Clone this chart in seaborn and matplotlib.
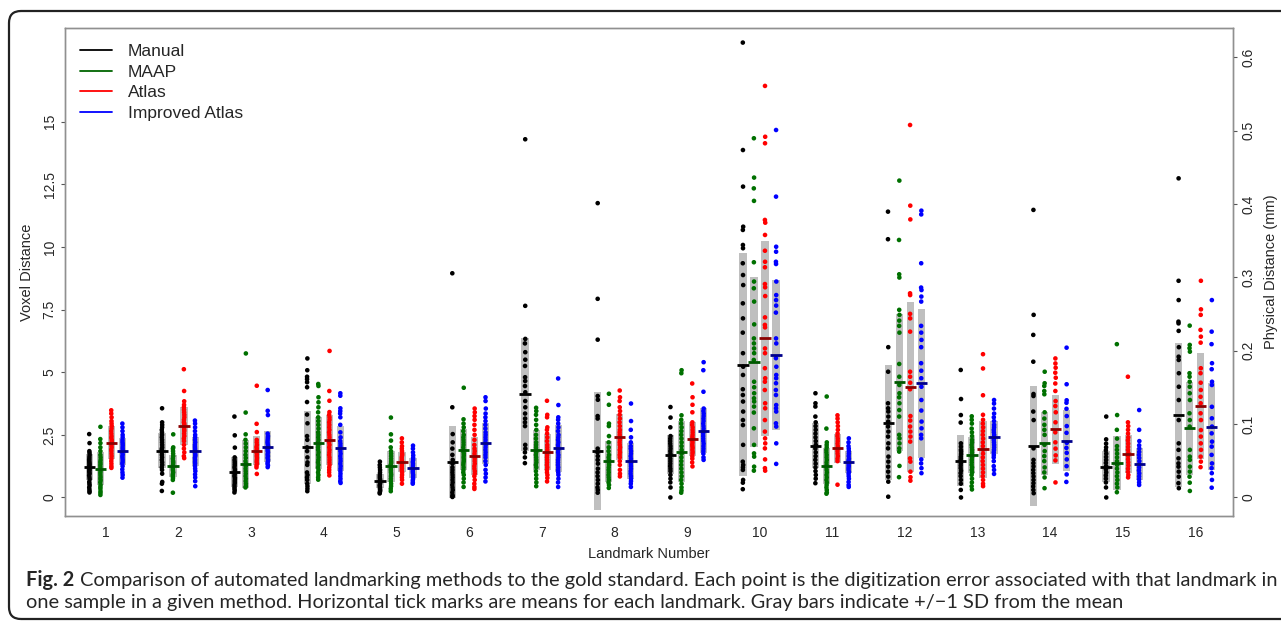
import numpy as np
import pandas as pd
import matplotlib
matplotlib.use("Agg")
import matplotlib.pyplot as plt
import seaborn as sns
from matplotlib.lines import Line2D
from matplotlib.patches import FancyBboxPatch
from matplotlib import font_manager

# ---------------- data ----------------
landmarks = list(range(1, 17))
methods = ["Manual", "MAAP", "Atlas", "Improved Atlas"]

manual = [
    [2.53, 2.17, 1.85, 1.78, 1.7, 1.62, 1.55, 1.5, 1.45, 1.4, 1.35, 1.3, 1.25, 1.2, 1.15, 1.1, 1.05, 1.0, 0.95, 0.88, 0.8, 0.72, 0.62, 0.55, 0.48, 0.4, 0.32, 0.25, 0.2],
    [3.56, 3.0, 2.9, 2.8, 2.7, 2.6, 2.5, 2.4, 2.3, 2.2, 2.1, 2.0, 1.95, 1.9, 1.85, 1.8, 1.7, 1.6, 1.5, 1.4, 1.3, 1.2, 1.1, 0.95, 0.62, 0.55, 0.26],
    [3.23, 2.48, 1.99, 1.6, 1.5, 1.42, 1.35, 1.28, 1.2, 1.12, 1.05, 0.98, 0.92, 0.85, 0.78, 0.72, 0.65, 0.58, 0.5, 0.42, 0.35, 0.28, 0.2],
    [5.55, 5.08, 4.82, 4.72, 4.6, 4.4, 3.81, 3.31, 2.96, 2.45, 2.3, 2.0, 1.85, 1.6, 1.4, 1.3, 1.0, 0.9, 0.8, 0.7, 0.55, 0.45, 0.35, 0.25],
    [1.43, 1.3, 1.2, 1.1, 1.0, 0.92, 0.85, 0.78, 0.72, 0.66, 0.6, 0.55, 0.5, 0.45, 0.4, 0.35, 0.3, 0.25, 0.2, 0.16],
    [8.95, 3.6, 2.53, 2.2, 1.95, 1.7, 1.5, 1.35, 1.2, 1.1, 1.0, 0.9, 0.8, 0.7, 0.6, 0.5, 0.4, 0.3, 0.2, 0.1, 0.05, 0.02],
    [14.3, 7.65, 6.33, 6.15, 5.8, 5.5, 5.25, 4.8, 4.65, 4.45, 4.2, 3.85, 3.6, 3.35, 3.15, 3.0, 2.85, 2.1, 1.95, 1.8, 1.6, 1.37],
    [11.75, 7.93, 6.3, 4.05, 3.9, 3.25, 3.15, 1.95, 1.8, 1.65, 1.5, 1.35, 1.15, 1.0, 0.85, 0.7, 0.55, 0.4, 0.3, 0.19],
    [3.61, 3.19, 2.8, 2.45, 2.35, 2.25, 2.15, 2.05, 1.95, 1.85, 1.75, 1.65, 1.55, 1.45, 1.35, 1.25, 1.15, 1.05, 0.9, 0.75, 0.6, 0.4, 0.0],
    [18.16, 13.87, 12.41, 10.81, 10.68, 10.08, 9.95, 9.35, 8.88, 8.48, 7.75, 7.15, 6.58, 5.76, 5.22, 4.89, 4.32, 4.09, 3.83, 3.43, 3.09, 2.89, 2.1, 1.43, 1.3, 1.2, 1.1, 0.7, 0.59, 0.33],
    [4.16, 3.76, 3.63, 3.23, 3.0, 2.85, 2.7, 2.55, 2.4, 2.25, 2.1, 1.95, 1.8, 1.65, 1.5, 1.35, 1.2, 1.05, 0.9, 0.75, 0.57],
    [11.41, 10.31, 6.0, 5.02, 3.76, 3.56, 3.43, 3.23, 3.03, 2.83, 2.63, 2.43, 2.16, 1.96, 1.63, 1.43, 1.23, 1.03, 0.83, 0.63, 0.03],
    [5.09, 3.93, 3.29, 2.99, 2.16, 2.03, 1.9, 1.83, 1.73, 1.63, 1.55, 1.47, 1.36, 1.27, 1.17, 1.07, 0.97, 0.85, 0.7, 0.55, 0.3, 0.0],
    [11.48, 7.29, 6.49, 5.42, 4.13, 4.05, 3.43, 3.09, 1.96, 1.5, 1.37, 1.24, 1.1, 0.97, 0.84, 0.7, 0.57, 0.44, 0.3, 0.17],
    [3.23, 2.32, 2.15, 2.0, 1.88, 1.75, 1.62, 1.5, 1.38, 1.25, 1.12, 1.0, 0.88, 0.75, 0.6, 0.4, 0.0],
    [12.74, 8.65, 7.88, 7.02, 6.95, 6.65, 6.0, 5.62, 5.49, 4.96, 4.42, 3.89, 3.09, 2.16, 1.9, 1.56, 1.36, 1.23, 1.03, 0.83, 0.57, 0.37],
]
maap = [
    [2.82, 2.33, 2.17, 2.0, 1.85, 1.7, 1.6, 1.5, 1.42, 1.35, 1.28, 1.2, 1.12, 1.05, 0.98, 0.9, 0.82, 0.75, 0.68, 0.6, 0.5, 0.42, 0.35, 0.25, 0.18, 0.1],
    [2.52, 2.0, 1.95, 1.85, 1.75, 1.65, 1.55, 1.45, 1.38, 1.3, 1.22, 1.15, 1.08, 1.0, 0.92, 0.85, 0.78, 0.7, 0.19],
    [5.75, 3.39, 2.52, 2.3, 2.15, 2.0, 1.85, 1.7, 1.58, 1.45, 1.35, 1.25, 1.15, 1.05, 0.95, 0.85, 0.75, 0.65, 0.55, 0.45, 0.4],
    [4.53, 4.45, 4.0, 3.8, 3.6, 3.4, 3.2, 3.05, 2.9, 2.75, 2.6, 2.5, 2.4, 2.3, 2.2, 2.1, 2.0, 1.9, 1.8, 1.7, 1.6, 1.5, 1.4, 1.3, 1.2, 1.1, 1.0, 0.9, 0.8, 0.71],
    [3.19, 2.52, 2.27, 2.0, 1.85, 1.75, 1.65, 1.55, 1.45, 1.38, 1.3, 1.22, 1.15, 1.08, 1.0, 0.92, 0.85, 0.75, 0.65, 0.55, 0.45, 0.35, 0.25],
    [4.38, 3.12, 2.95, 2.8, 2.65, 2.5, 2.4, 2.3, 2.2, 2.1, 2.0, 1.9, 1.82, 1.75, 1.68, 1.6, 1.52, 1.45, 1.38, 1.3, 1.2, 1.1, 1.0, 0.9, 0.75, 0.6, 0.42],
    [3.58, 3.45, 3.3, 3.1, 2.9, 2.7, 2.5, 2.35, 2.2, 2.1, 2.0, 1.9, 1.8, 1.7, 1.6, 1.5, 1.4, 1.3, 1.2, 1.05, 0.9, 0.75, 0.6, 0.45],
    [4.14, 3.7, 2.95, 2.85, 2.45, 2.2, 2.0, 1.85, 1.7, 1.6, 1.5, 1.4, 1.3, 1.2, 1.1, 1.0, 0.9, 0.8, 0.7, 0.6, 0.5, 0.38],
    [5.08, 4.96, 3.28, 3.1, 2.95, 2.8, 2.65, 2.5, 2.35, 2.2, 2.05, 1.9, 1.75, 1.6, 1.45, 1.3, 1.15, 1.0, 0.85, 0.7, 0.55, 0.4, 0.28, 0.19],
    [14.34, 12.77, 12.34, 11.84, 9.39, 8.62, 8.35, 7.82, 6.91, 6.35, 6.15, 5.95, 5.76, 5.49, 4.62, 4.4, 4.16, 3.96, 3.83, 3.63, 3.39, 2.76, 2.1, 1.76, 1.63, 1.23, 1.07],
    [4.03, 2.75, 2.2, 2.1, 2.0, 1.9, 1.8, 1.7, 1.6, 1.5, 1.4, 1.3, 1.2, 1.1, 1.0, 0.9, 0.8, 0.7, 0.6, 0.5, 0.4, 0.3, 0.2, 0.15],
    [12.65, 10.28, 8.91, 8.78, 7.49, 7.29, 7.06, 6.85, 6.58, 5.33, 4.82, 4.49, 4.16, 4.0, 3.76, 3.49, 3.23, 2.5, 2.36, 2.16, 1.96, 1.83, 1.26, 0.81],
    [3.24, 3.1, 2.95, 2.75, 2.6, 2.45, 2.3, 2.2, 2.1, 2.0, 1.9, 1.8, 1.7, 1.6, 1.5, 1.4, 1.3, 1.2, 1.1, 1.0, 0.9, 0.75, 0.6, 0.45, 0.32],
    [5.02, 4.56, 4.45, 4.25, 4.12, 3.4, 3.15, 2.9, 2.7, 2.5, 2.1, 1.85, 1.65, 1.45, 1.2, 1.0, 0.8, 0.37],
    [6.12, 3.29, 2.7, 2.35, 2.05, 1.9, 1.75, 1.6, 1.45, 1.3, 1.15, 1.0, 0.85, 0.7, 0.55, 0.4, 0.21],
    [6.86, 6.09, 5.96, 5.82, 4.96, 4.82, 4.62, 4.42, 4.16, 3.89, 3.36, 3.09, 2.83, 1.9, 1.63, 1.5, 1.23, 1.03, 0.83, 0.59, 0.26],
]
atlas = [
    [3.48, 3.35, 3.2, 3.05, 2.95, 2.85, 2.75, 2.65, 2.55, 2.45, 2.38, 2.3, 2.22, 2.15, 2.08, 2.0, 1.92, 1.85, 1.75, 1.65, 1.55, 1.45, 1.35, 1.25, 1.18],
    [5.12, 4.25, 3.84, 3.7, 3.6, 3.5, 3.4, 3.3, 3.2, 3.1, 3.0, 2.95, 2.88, 2.8, 2.72, 2.65, 2.55, 2.45, 2.35, 2.25, 2.1, 1.95, 1.8, 1.65, 1.57],
    [4.46, 2.94, 2.61, 2.3, 2.2, 2.1, 2.02, 1.95, 1.88, 1.8, 1.72, 1.65, 1.58, 1.5, 1.42, 1.35, 1.28, 1.2, 0.94],
    [5.85, 4.25, 3.86, 3.41, 3.3, 3.2, 3.1, 3.0, 2.9, 2.8, 2.7, 2.6, 2.5, 2.4, 2.3, 2.2, 2.1, 2.0, 1.9, 1.8, 1.7, 1.6, 1.5, 1.4, 1.3, 1.2, 1.1, 1.0, 0.88],
    [2.36, 2.2, 2.05, 1.95, 1.85, 1.75, 1.68, 1.6, 1.52, 1.45, 1.38, 1.3, 1.22, 1.15, 1.08, 1.0, 0.9, 0.8, 0.7, 0.55],
    [3.55, 3.4, 3.25, 3.1, 2.9, 2.7, 2.5, 2.3, 2.1, 1.95, 1.85, 1.75, 1.65, 1.55, 1.45, 1.35, 1.25, 1.15, 1.05, 0.95, 0.85, 0.7, 0.55, 0.42, 0.34],
    [3.86, 3.3, 3.2, 2.8, 2.7, 2.55, 2.4, 2.25, 2.1, 2.0, 1.9, 1.8, 1.7, 1.6, 1.5, 1.4, 1.3, 1.2, 1.1, 1.0, 0.9, 0.78, 0.64],
    [4.27, 4.0, 3.85, 3.6, 3.45, 3.3, 3.15, 3.0, 2.85, 2.7, 2.6, 2.5, 2.4, 2.3, 2.2, 2.1, 2.0, 1.9, 1.8, 1.7, 1.6, 1.45, 1.3, 1.1, 0.95, 0.84],
    [4.55, 4.0, 3.7, 3.4, 3.0, 2.9, 2.8, 2.7, 2.6, 2.5, 2.42, 2.35, 2.28, 2.2, 2.12, 2.05, 1.98, 1.9, 1.82, 1.75, 1.65, 1.55, 1.4, 1.24],
    [16.43, 14.4, 14.14, 11.08, 10.97, 10.48, 9.85, 9.41, 9.19, 8.52, 8.39, 8.04, 7.19, 6.89, 6.79, 5.95, 5.76, 5.16, 4.76, 4.62, 4.29, 3.76, 3.56, 3.09, 2.63, 2.36, 2.16, 1.96, 1.52, 1.17, 1.07],
    [3.28, 3.15, 3.0, 2.85, 2.7, 2.55, 2.45, 2.35, 2.25, 2.15, 2.05, 1.95, 1.85, 1.75, 1.65, 1.55, 1.45, 0.51],
    [14.87, 11.65, 11.1, 8.15, 8.08, 7.33, 7.15, 6.62, 5.02, 4.82, 4.58, 4.32, 3.25, 3.07, 2.83, 2.63, 2.43, 2.23, 1.56, 1.43, 1.03, 0.81, 0.67],
    [5.72, 5.15, 4.08, 3.3, 3.1, 2.95, 2.8, 2.65, 2.5, 2.35, 2.2, 2.05, 1.9, 1.75, 1.6, 1.45, 1.3, 1.15, 1.0, 0.85, 0.7, 0.55, 0.45],
    [5.55, 5.35, 5.18, 4.98, 4.78, 4.55, 4.25, 3.85, 3.65, 3.4, 3.0, 2.6, 2.2, 1.95, 1.68, 1.48, 0.6],
    [4.82, 3.0, 2.85, 2.7, 2.55, 2.4, 2.28, 2.15, 2.02, 1.9, 1.78, 1.65, 1.52, 1.4, 1.28, 1.15, 1.02, 0.9, 0.8],
    [8.65, 7.51, 7.29, 6.69, 6.42, 6.18, 5.16, 4.96, 4.58, 4.29, 4.02, 3.76, 3.36, 3.09, 2.69, 2.43, 2.16, 1.9, 1.63, 1.43, 1.21],
]
improved = [
    [2.95, 2.8, 2.65, 2.5, 2.4, 2.3, 2.22, 2.15, 2.08, 2.0, 1.93, 1.86, 1.8, 1.72, 1.65, 1.58, 1.5, 1.42, 1.35, 1.25, 1.12, 1.0, 0.9, 0.79],
    [3.07, 2.95, 2.8, 2.65, 2.5, 2.4, 2.3, 2.2, 2.1, 2.02, 1.95, 1.88, 1.8, 1.72, 1.65, 1.58, 1.5, 1.42, 1.35, 1.25, 1.15, 1.05, 0.92, 0.8, 0.65, 0.45],
    [4.29, 3.46, 3.29, 2.55, 2.45, 2.38, 2.3, 2.22, 2.15, 2.08, 2.0, 1.93, 1.86, 1.8, 1.72, 1.65, 1.58, 1.5, 1.42, 1.35, 1.28, 1.21],
    [4.16, 4.06, 3.56, 3.45, 3.35, 3.2, 2.9, 2.6, 2.4, 2.25, 2.15, 2.05, 1.95, 1.85, 1.75, 1.65, 1.55, 1.45, 1.35, 1.25, 1.15, 1.05, 0.95, 0.85, 0.75, 0.65, 0.58],
    [2.07, 1.95, 1.8, 1.68, 1.58, 1.5, 1.42, 1.35, 1.28, 1.2, 1.12, 1.05, 0.98, 0.9, 0.82, 0.75, 0.68, 0.6, 0.55],
    [4.0, 3.85, 3.55, 3.35, 3.2, 3.05, 2.9, 2.75, 2.6, 2.5, 2.4, 2.3, 2.2, 2.1, 2.0, 1.9, 1.8, 1.7, 1.6, 1.45, 1.3, 1.1, 0.95, 0.8, 0.64],
    [4.75, 3.69, 3.2, 3.1, 2.95, 2.8, 2.65, 2.5, 2.4, 2.3, 2.2, 2.1, 2.0, 1.9, 1.8, 1.7, 1.6, 1.5, 1.4, 1.3, 1.2, 1.1, 1.0, 0.9, 0.75, 0.6, 0.42],
    [3.75, 3.05, 2.7, 2.4, 2.2, 2.05, 1.95, 1.85, 1.75, 1.65, 1.55, 1.45, 1.35, 1.25, 1.15, 1.05, 0.95, 0.85, 0.75, 0.65, 0.55, 0.42],
    [5.4, 5.08, 4.22, 3.55, 3.45, 3.35, 3.25, 3.15, 3.05, 2.95, 2.85, 2.75, 2.65, 2.55, 2.45, 2.35, 2.25, 2.15, 2.05, 1.95, 1.85, 1.75, 1.6, 1.5],
    [14.67, 12.01, 10.01, 9.81, 9.41, 9.32, 8.62, 8.08, 7.88, 7.66, 7.38, 6.35, 6.15, 5.56, 5.22, 4.89, 4.76, 4.56, 4.29, 4.09, 3.69, 3.56, 3.43, 2.96, 2.83, 2.16, 1.34],
    [2.36, 2.2, 2.05, 1.95, 1.85, 1.75, 1.65, 1.55, 1.48, 1.4, 1.32, 1.25, 1.18, 1.1, 1.02, 0.95, 0.85, 0.75, 0.62, 0.5, 0.42],
    [11.45, 11.3, 9.35, 8.38, 8.28, 8.02, 7.82, 6.85, 6.58, 6.29, 6.0, 5.36, 5.06, 4.76, 4.42, 3.89, 3.47, 3.03, 2.76, 2.5, 2.36, 1.52, 1.36, 1.17, 0.97],
    [3.89, 3.75, 3.55, 3.35, 3.2, 3.05, 2.9, 2.8, 2.7, 2.6, 2.5, 2.4, 2.3, 2.2, 2.1, 2.0, 1.9, 1.8, 1.7, 1.6, 1.45, 1.25, 1.1, 0.94],
    [5.98, 4.52, 3.88, 3.78, 3.54, 3.25, 2.85, 2.58, 2.18, 1.98, 1.78, 1.52, 1.25, 0.92, 0.62],
    [3.49, 2.7, 2.25, 2.08, 1.95, 1.82, 1.7, 1.58, 1.45, 1.33, 1.2, 1.08, 0.96, 0.84, 0.72, 0.6, 0.5],
    [7.88, 6.62, 6.12, 5.36, 5.12, 4.62, 4.49, 3.62, 3.16, 2.83, 2.56, 2.23, 2.03, 1.7, 1.36, 1.17, 0.97, 0.7, 0.39],
]

# means (horizontal ticks) and standard deviations (gray bars) per landmark
manual_mean = [1.22, 1.87, 1.02, 2.00, 0.65, 1.42, 4.12, 1.86, 1.70, 5.29, 2.06, 2.99, 1.47, 2.04, 1.23, 3.29]
manual_sd = [0.53, 0.69, 0.59, 1.46, 0.27, 1.45, 2.25, 2.35, 0.78, 4.45, 0.90, 2.31, 1.03, 2.40, 0.63, 2.87]
maap_mean = [1.15, 1.25, 1.34, 2.19, 1.24, 1.90, 1.90, 1.44, 1.83, 5.42, 1.26, 4.60, 1.70, 2.16, 1.37, 2.76]
maap_sd = [0.65, 0.45, 0.97, 1.04, 0.61, 0.82, 0.79, 0.83, 1.22, 3.39, 0.71, 2.74, 0.73, 1.26, 1.08, 1.86]
atlas_mean = [2.19, 2.86, 1.87, 2.29, 1.40, 1.66, 1.83, 2.40, 2.32, 6.35, 1.96, 4.42, 1.92, 2.72, 1.74, 3.65]
atlas_sd = [0.67, 0.76, 0.57, 1.01, 0.40, 0.77, 0.72, 0.92, 0.68, 3.90, 0.58, 3.40, 1.15, 1.38, 0.75, 2.13]
improved_mean = [1.84, 1.84, 2.03, 1.96, 1.17, 2.16, 1.96, 1.46, 2.66, 5.69, 1.41, 4.56, 2.40, 2.27, 1.33, 2.83]
improved_sd = [0.55, 0.59, 0.61, 0.91, 0.40, 0.81, 0.93, 0.71, 0.90, 2.99, 0.43, 2.97, 0.66, 1.22, 0.65, 1.74]

left_ticks = [0, 2.5, 5, 7.5, 10, 12.5, 15]
left_ticklabels = ["0", "2.5", "5", "7.5", "10", "12.5", "15"]
right_ticks = [0, 0.1, 0.2, 0.3, 0.4, 0.5, 0.6]
right_ticklabels = ["0", "0.1", "0.2", "0.3", "0.4", "0.5", "0.6"]
mm_per_voxel = 0.03413

caption_bold = "Fig. 2"
caption_line1 = ("Comparison of automated landmarking methods to the gold standard. "
                 "Each point is the digitization error associated with that landmark in")
caption_line2 = ("one sample in a given method. Horizontal tick marks are means for each landmark. "
                 "Gray bars indicate +/\u22121 SD from the mean")

# ---------------- styling ----------------
W, H = 1281, 624
point_colors = {"Manual": "#000000", "MAAP": "#007000", "Atlas": "#ff0000", "Improved Atlas": "#0000ff"}
mean_colors = {"Manual": "#000000", "MAAP": "#005800", "Atlas": "#8b0000", "Improved Atlas": "#00008b"}
legend_colors = {"Manual": "#000000", "MAAP": "#006400", "Atlas": "#ff0000", "Improved Atlas": "#0000ff"}
offsets = {"Manual": -0.228, "MAAP": -0.076, "Atlas": 0.076, "Improved Atlas": 0.228}

sns.set_style("white")
names = {f.name for f in font_manager.fontManager.ttflist}
main_font = "Liberation Sans" if "Liberation Sans" in names else "DejaVu Sans"
cap_font = "Lato" if "Lato" in names else main_font
plt.rcParams["font.family"] = [main_font, "DejaVu Sans"]

# ---------------- long-form data ----------------
series = {"Manual": manual, "MAAP": maap, "Atlas": atlas, "Improved Atlas": improved}
stats = {"Manual": (manual_mean, manual_sd), "MAAP": (maap_mean, maap_sd),
         "Atlas": (atlas_mean, atlas_sd), "Improved Atlas": (improved_mean, improved_sd)}
rows = []
for m in methods:
    for lm, vals in zip(landmarks, series[m]):
        for v in vals:
            rows.append({"landmark": lm, "method": m, "pos": round(lm + offsets[m], 3), "voxel": v})
df = pd.DataFrame(rows)

fig = plt.figure(figsize=(W / 100, H / 100), dpi=100)
ax = fig.add_axes([65 / W, 1 - 516 / H, (1233 - 65) / W, (516 - 28.3) / H])

# gray +/- 1 SD bars
for m in methods:
    mean, sd = stats[m]
    mean = np.array(mean)
    sd = np.array(sd)
    pos = np.array(landmarks) + offsets[m]
    ax.bar(pos, 2 * sd, bottom=mean - sd, width=0.1, color="#bfbfbf", zorder=1, linewidth=0)

np.random.seed(7)
sns.stripplot(data=df, x="pos", y="voxel", hue="method", hue_order=methods, palette=point_colors,
              native_scale=True, orient="x", jitter=0.022, size=3.3, linewidth=0, legend=False,
              ax=ax, zorder=2)

# mean ticks
for m in methods:
    mean, sd = stats[m]
    pos = np.array(landmarks) + offsets[m]
    ax.hlines(mean, pos - 0.078, pos + 0.078, colors=mean_colors[m], linewidth=2.0, zorder=3)

ylo, yhi = -0.74, 18.73
ax.set_xlim(0.436, 16.52)
ax.set_ylim(ylo, yhi)
ax.set_xticks(landmarks)
ax.set_xticklabels([str(v) for v in landmarks], fontsize=10)
ax.set_yticks(left_ticks)
ax.set_yticklabels(left_ticklabels, fontsize=10, rotation=90, va="center")
ax.set_xlabel("Landmark Number", fontsize=10.5, labelpad=5)
ax.set_ylabel("Voxel Distance", fontsize=10.5, labelpad=6)
ax.tick_params(axis="x", length=4, width=0.8, color="#555555", pad=3)
ax.tick_params(axis="y", length=3, width=0.8, color="#555555", pad=3)
for s in ax.spines.values():
    s.set_color("#909090")
    s.set_linewidth(1.0)

ax2 = ax.twinx()
ax2.set_ylim(ylo * mm_per_voxel, yhi * mm_per_voxel)
ax2.set_yticks(right_ticks)
ax2.set_yticklabels(right_ticklabels, fontsize=10, rotation=90, va="center")
ax2.set_ylabel("Physical Distance (mm)", fontsize=10.5, labelpad=6)
ax2.tick_params(axis="y", length=3, width=0.8, color="#555555", pad=3)
for s in ax2.spines.values():
    s.set_color("#909090")
    s.set_linewidth(1.0)

handles = [Line2D([0], [0], color=legend_colors[m], lw=1.3) for m in methods]
ax.legend(handles, methods, loc="upper left", bbox_to_anchor=(0.0128, 0.968), frameon=False,
          fontsize=12.5, handlelength=1.85, handletextpad=0.9, labelspacing=0.32,
          borderpad=0, borderaxespad=0)

# outer rounded frame
frame = FancyBboxPatch((9, 5), 1300, 608, boxstyle="round,pad=0,rounding_size=12",
                       transform=None, fill=False, edgecolor="#222222", linewidth=1.6)
fig.patches.append(frame)

# caption (sized so that the first line spans the same width as in the reference)
fig.canvas.draw()
r = fig.canvas.get_renderer()
fs = 13.0
x0, x_end, gap = 26, 1275, 6
cfam = [cap_font, "DejaVu Sans"]
t1 = fig.text(x0 / W, 1 - 586 / H, caption_bold, fontsize=fs, fontweight="bold",
              family=cfam, va="baseline", ha="left")
t2 = fig.text(0, 1 - 586 / H, caption_line1, fontsize=fs, family=cfam, va="baseline", ha="left")
t3 = fig.text(x0 / W, 1 - 608 / H, caption_line2, fontsize=fs, family=cfam, va="baseline", ha="left")
w_total = t1.get_window_extent(r).width + gap + t2.get_window_extent(r).width
fs_new = fs * (x_end - x0) / w_total
for t in (t1, t2, t3):
    t.set_fontsize(fs_new)
fig.canvas.draw()
bb = t1.get_window_extent(r)
t2.set_x((bb.x1 + gap) / W)

fig.savefig("out.png", dpi=100)
